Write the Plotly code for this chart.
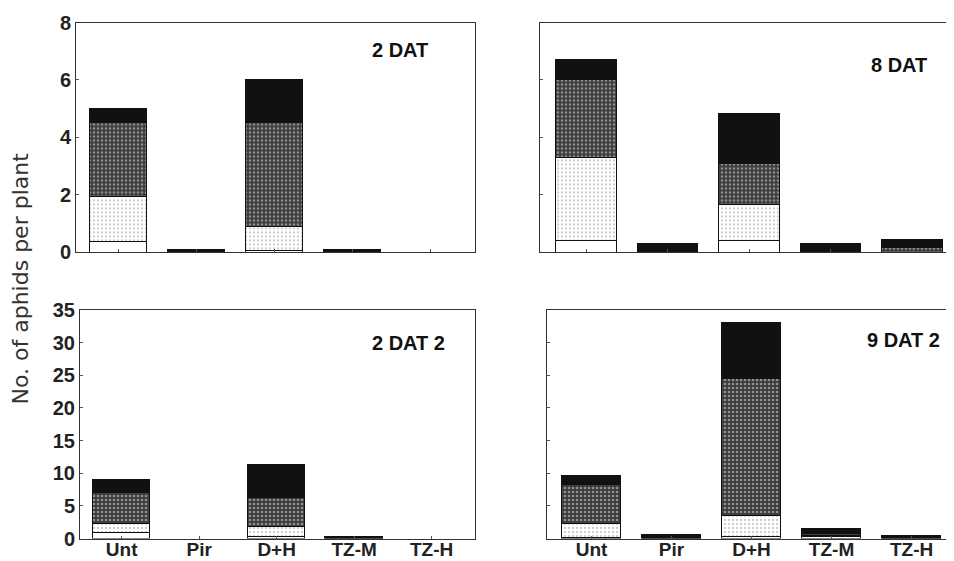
import plotly.graph_objects as go

categories = ["Unt", "Pir", "D+H", "TZ-M", "TZ-H"]
panel_titles = ["2 DAT", "8 DAT", "2 DAT 2", "9 DAT 2"]

# stacked segments, bottom to top: clear, light dotted, dark dotted, black
p1_clear = [0.35, None, 0.05, None, None]
p1_light = [1.6, None, 0.85, None, None]
p1_dark = [2.55, None, 3.6, None, None]
p1_black = [0.5, 0.08, 1.5, 0.08, None]

p2_clear = [0.4, None, 0.4, None, None]
p2_light = [2.9, None, 1.25, None, None]
p2_dark = [2.7, None, 1.42, None, 0.15]
p2_black = [0.7, 0.3, 1.75, 0.3, 0.27]

p3_clear = [0.8, None, 0.3, None, None]
p3_light = [1.35, None, 1.5, None, None]
p3_dark = [4.85, None, 4.45, None, None]
p3_black = [1.9, None, 4.95, 0.2, None]

p4_clear = [0.1, None, 0.2, 0.2, None]
p4_light = [2.1, None, 3.2, 0.25, None]
p4_dark = [5.95, None, 21.1, 0.2, None]
p4_black = [1.45, 0.5, 8.55, 0.85, 0.4]

y_top_ticks = [0, 2, 4, 6, 8]
y_bot_ticks = [0, 5, 10, 15, 20, 25, 30, 35]

panels = [
    (p1_clear, p1_light, p1_dark, p1_black),
    (p2_clear, p2_light, p2_dark, p2_black),
    (p3_clear, p3_light, p3_dark, p3_black),
    (p4_clear, p4_light, p4_dark, p4_black),
]

W, H = 954, 561
OFF = 8  # page body margin offset
LINE = dict(color="#111", width=1)

styles = [
    dict(color="white", line=LINE),
    dict(color="white", line=LINE,
         pattern=dict(shape=".", fillmode="overlay", bgcolor="white", fgcolor="#9a9a9a", size=4, solidity=0.25)),
    dict(color="#3a3a3a", line=LINE,
         pattern=dict(shape=".", fillmode="overlay", bgcolor="#3a3a3a", fgcolor="#e8e8e8", size=4, solidity=0.35)),
    dict(color="#111111", line=LINE),
]

fig = go.Figure()
for i, segs in enumerate(panels):
    ax = "" if i == 0 else str(i + 1)
    for seg, st in zip(segs, styles):
        fig.add_trace(go.Bar(x=categories, y=seg, marker=st, width=0.74,
                             xaxis="x" + ax, yaxis="y" + ax, showlegend=False,
                             hoverinfo="skip"))

def px_x(a, b):
    return [(a - OFF) / W, min((b - OFF) / W, 1.0)]

def px_y(top, bottom):
    return [1 - (bottom - OFF) / H, 1 - (top - OFF) / H]

tickfont = dict(family="Liberation Sans", size=20, color="#222", weight="bold")
xtickfont = dict(family="Liberation Sans", size=19, color="#222", weight="bold")
axis_common = dict(showline=True, linecolor="#333", linewidth=1, ticks="inside",
                   ticklen=3, tickcolor="#555", showgrid=False, zeroline=False,
                   tickfont=tickfont, automargin=False)

layout = dict(
    template="none",
    width=W, height=H, margin=dict(l=0, r=0, t=0, b=0, pad=0), autosize=False,
    paper_bgcolor="white", plot_bgcolor="white", barmode="stack", bargap=0,
    xaxis=dict(axis_common, domain=px_x(76, 475), range=[-0.545, 4.57], mirror=True,
               showticklabels=False, anchor="y", type="category"),
    yaxis=dict(axis_common, domain=px_y(22.5, 252), range=[0, 8], tickvals=y_top_ticks,
               mirror=True, anchor="x"),
    xaxis2=dict(axis_common, domain=px_x(540, 958), range=[-0.571, 4.56], mirror=True,
                showticklabels=False, anchor="y2", type="category"),
    yaxis2=dict(axis_common, domain=px_y(22.5, 252), range=[0, 8], tickvals=y_top_ticks,
                showticklabels=False, mirror=False, anchor="x2"),
    xaxis3=dict(axis_common, domain=px_x(80, 475), range=[-0.538, 4.56], mirror=True,
                anchor="y3", type="category", ticklabelstandoff=-6, tickfont=xtickfont),
    yaxis3=dict(axis_common, domain=px_y(310, 538.5), range=[0, 35], tickvals=y_bot_ticks,
                mirror=True, anchor="x3"),
    xaxis4=dict(axis_common, domain=px_x(547, 958), range=[-0.556, 4.58], mirror=True,
                anchor="y4", type="category", ticklabelstandoff=-6, tickfont=xtickfont),
    yaxis4=dict(axis_common, domain=px_y(310, 538.5), range=[0, 35], tickvals=y_bot_ticks,
                showticklabels=False, mirror=False, anchor="x4"),
)
fig.update_layout(**layout)

ann_font = dict(family="Liberation Sans", size=20, color="#111", weight="bold")
ann_pos = [(400, 50), (899, 65), (408, 343), (903, 340)]
for t, (x, y) in zip(panel_titles, ann_pos):
    fig.add_annotation(text=t, x=(x - OFF) / W, y=1 - (y - OFF) / H, xref="paper", yref="paper",
                       xanchor="center", yanchor="middle", showarrow=False, font=ann_font)

fig.add_annotation(text="No. of aphids per plant", x=(19.5 - OFF) / W, y=1 - (279 - OFF) / H,
                   xref="paper", yref="paper", xanchor="center", yanchor="middle",
                   textangle=-90, showarrow=False,
                   font=dict(family="DejaVu Sans", size=22, color="#333"))

fig.write_html("out.html")
